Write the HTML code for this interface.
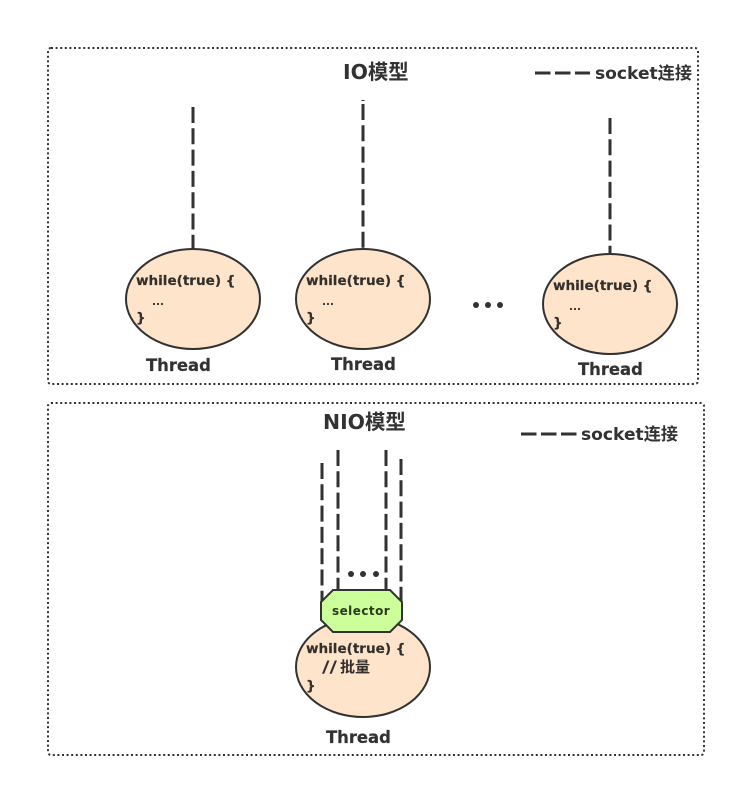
<!DOCTYPE html>
<html><head><meta charset="utf-8"><style>
html,body{margin:0;padding:0;background:#fff}
svg{display:block}
text{font-family:"DejaVu Sans","Noto Sans CJK SC",sans-serif;font-weight:bold;fill:#323232}
.c{font-size:13.55px;fill:#33302c;stroke:#33302c;stroke-width:.2}
.x{font-size:10.5px;fill:#33302c}
.t{font-size:16.4px;stroke:#323232;stroke-width:.2}
.h{font-size:20.4px}
.s{font-size:17.1px}
.d{stroke:#323232;stroke-width:3;stroke-dasharray:16 5.3;fill:none}
.b{fill:none;stroke:#323232;stroke-width:2;stroke-dasharray:2 2.6}
.e{fill:#fee4cb;stroke:#323232;stroke-width:2}
</style></head><body>
<svg width="755" height="788" viewBox="0 0 755 788" xmlns="http://www.w3.org/2000/svg">
<rect width="755" height="788" fill="#fff"/>
<rect class="b" x="48" y="48" width="650" height="336" rx="3"/>
<rect class="b" x="48" y="403" width="656" height="352" rx="3"/>

<text class="h" x="343" y="79">IO模型</text>
<path class="d" d="M535 73H590" style="stroke-dasharray:15.5 4.5"/>
<text class="s" x="595" y="79">socket连接</text>

<path class="d" d="M193 107V249"/>
<path class="d" d="M363 100V101M363 104V249" />
<path class="d" d="M610 118V254"/>

<ellipse class="e" cx="193" cy="299" rx="67" ry="50"/>
<ellipse class="e" cx="363" cy="299" rx="67" ry="50"/>
<ellipse class="e" cx="610" cy="304" rx="67" ry="50"/>

<text class="c" x="136" y="285">while(true) {</text>
<text class="x" x="152" y="305">...</text>
<text class="c" x="136" y="322">}</text>
<text class="c" x="306" y="285">while(true) {</text>
<text class="x" x="322" y="305">...</text>
<text class="c" x="306" y="322">}</text>
<text class="c" x="553" y="290">while(true) {</text>
<text class="x" x="569" y="310">...</text>
<text class="c" x="553" y="327">}</text>

<text class="t" x="146" y="371">Thread</text>
<text class="t" x="331" y="370">Thread</text>
<text class="t" x="578" y="375">Thread</text>

<circle cx="476" cy="305" r="3" fill="#323232"/>
<circle cx="488" cy="305" r="3" fill="#323232"/>
<circle cx="500" cy="305" r="3" fill="#323232"/>

<text class="h" x="323" y="429">NIO模型</text>
<path class="d" d="M521 434H577" style="stroke-dasharray:15.5 4.5"/>
<text class="s" x="581" y="440">socket连接</text>

<path class="d" d="M322 463V602"/>
<path class="d" d="M338 450V590"/>
<path class="d" d="M386 450V590"/>
<path class="d" d="M401 459V602"/>

<circle cx="351" cy="574" r="3" fill="#323232"/>
<circle cx="363" cy="574" r="3" fill="#323232"/>
<circle cx="376" cy="574" r="3" fill="#323232"/>

<ellipse class="e" cx="363" cy="667" rx="67" ry="50"/>
<polygon points="333,590 390,590 402,602 402,620 390,632 333,632 321,620 321,602" fill="#ccff99" stroke="#323232" stroke-width="2"/>
<text x="332" y="615" style="font-size:12px;letter-spacing:.45px;fill:#2b3a1f">selector</text>

<text class="c" x="306" y="653">while(true) {</text>
<text x="322" y="672" style="font-size:16px;fill:#33302c" textLength="15" lengthAdjust="spacingAndGlyphs">//</text>
<text x="340" y="672" style="font-size:15px;fill:#33302c">批量</text>
<text class="c" x="306" y="690">}</text>

<text class="t" x="326" y="743">Thread</text>
</svg>
</body></html>
